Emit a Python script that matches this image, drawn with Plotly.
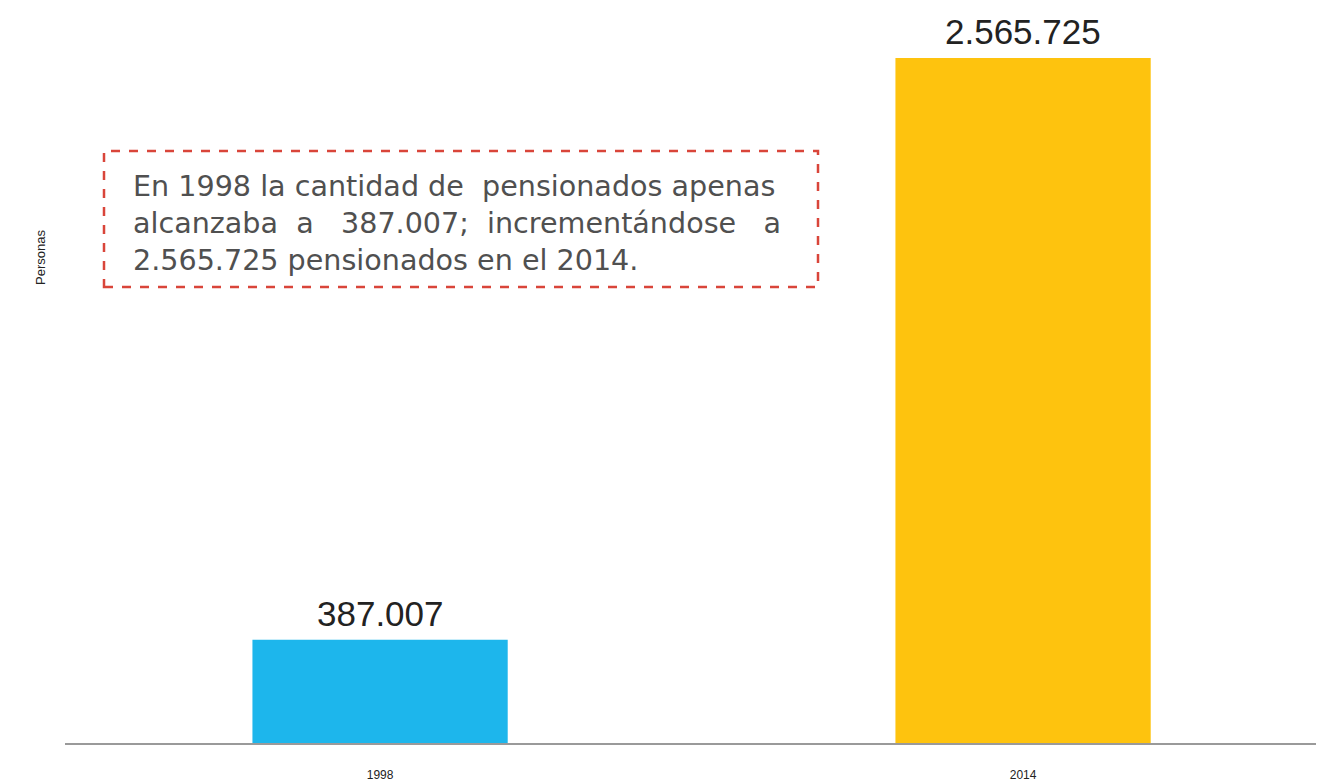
import plotly.graph_objects as go

years = ["1998", "2014"]
pensionados = [387007, 2565725]
labels = ["387.007", "2.565.725"]
colors = ["#1DB6EC", "#FEC30E"]

# page offset of the figure div (body margin)
OFF = 8
W, H = 1316, 776
L, B = 57, 41
PW, PH = W - L, H - B


def px(xp):
    return (xp - OFF - L) / PW


def py(yp):
    return (H - B - (yp - OFF)) / PH


fig = go.Figure()
fig.add_trace(go.Bar(
    x=years, y=pensionados, width=0.397,
    marker=dict(color=colors, line=dict(width=0)),
    hoverinfo="x+y",
))

for i, (val, lab) in enumerate(zip(pensionados, labels)):
    fig.add_annotation(x=i, y=val, xref="x", yref="y", text=lab,
                       showarrow=False, yanchor="bottom", yshift=5,
                       font=dict(family="Arial, Liberation Sans", size=35, color="#222222"))

fig.update_layout(
    width=W, height=H,
    margin=dict(l=L, r=0, t=0, b=B, autoexpand=False),
    paper_bgcolor="white", plot_bgcolor="white",
    showlegend=False,
    xaxis=dict(type="category", range=[-0.49, 1.468], showline=True,
               linecolor="#9a9a9a", linewidth=2, ticks="outside",
               ticklen=20, tickcolor="rgba(0,0,0,0)",
               tickfont=dict(family="Liberation Sans Narrow, Arial", size=12, color="#222222")),
    yaxis=dict(range=[0, 2565725 * PH / 685], showgrid=False, showticklabels=False,
               zeroline=False, showline=False),
    font=dict(family="Arial"),
)

fig.add_annotation(xref="paper", yref="paper", x=px(40), y=py(258),
                   xanchor="center", yanchor="middle",
                   text="Personas", textangle=-90, showarrow=False,
                   font=dict(family="Liberation Sans Narrow, Arial", size=13, color="#222222"))

fig.add_shape(type="rect", xref="paper", yref="paper",
              x0=px(104), x1=px(818), y0=py(287), y1=py(151),
              line=dict(color="#D9453A", width=2.5, dash="dash"), fillcolor="rgba(0,0,0,0)")

fig.add_annotation(xref="paper", yref="paper", x=px(131), y=py(167),
                   xanchor="left", yanchor="top", showarrow=False, align="left",
                   text="En 1998 la cantidad de  pensionados apenas<br>alcanzaba  a   387.007;  incrementándose   a<br>2.565.725 pensionados en el 2014.",
                   font=dict(family="DejaVu Sans", size=28.6, color="#505050"))

fig.write_html("out.html")
